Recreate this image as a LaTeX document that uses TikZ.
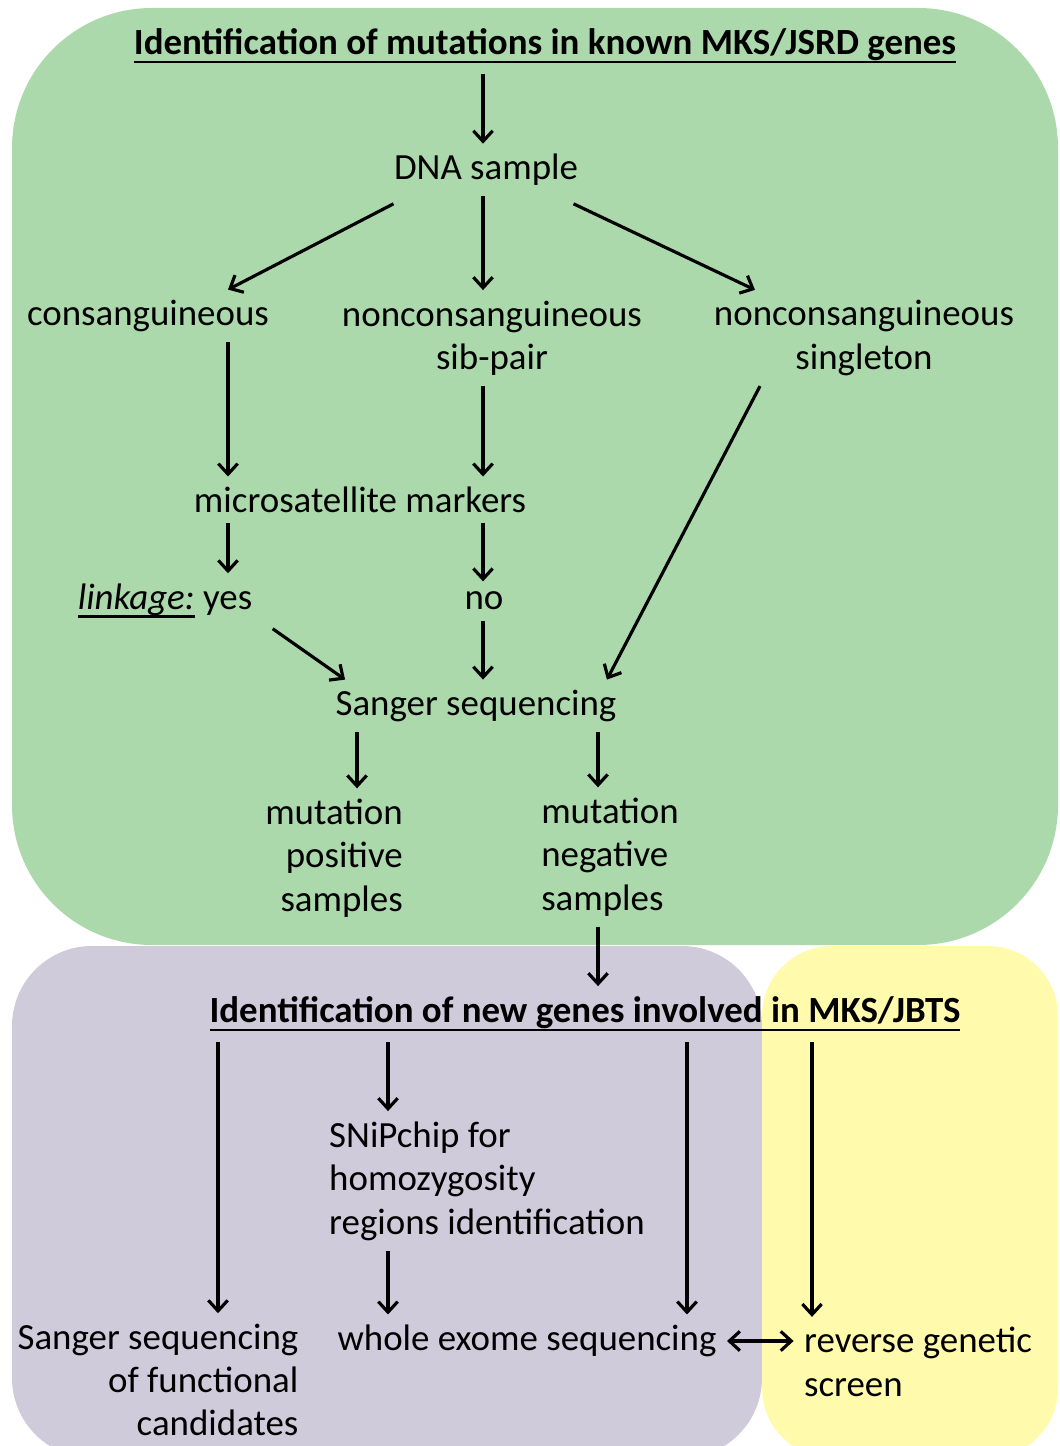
\documentclass[tikz,border=0pt]{standalone}
\usepackage{fontspec}
\setmainfont{Carlito}
\usetikzlibrary{arrows.meta}
\definecolor{boxgreen}{RGB}{172,217,172}
\definecolor{boxpurple}{RGB}{208,203,219}
\definecolor{boxyellow}{RGB}{255,250,172}
\newcommand\thickul[1]{\setbox0\hbox{#1}\leavevmode\rlap{\rule[-5pt]{\wd0}{1.6pt}}\box0\relax}
\begin{document}
\begin{tikzpicture}[x=0.02cm,y=-0.02cm]
\tikzstyle{txt}=[inner sep=0pt,outer sep=6pt,font=\fontsize{21pt}{24.7pt}\selectfont]
\tikzstyle{arr}=[line width=1.8pt,-{Straight Barb[length=6pt,width=11pt,line width=1.8pt]}]
\useasboundingbox (0,0) rectangle (1060,1446);

% Background panels
\fill[boxgreen,rounded corners=2.8cm] (12,8) rectangle (1058,945);
\fill[boxpurple,rounded corners=1.6cm] (12,946) rectangle (762,1458);
\fill[boxyellow,rounded corners=1.4cm] (762,946) rectangle (1058,1458);

% Arrow columns
\coordinate (xa) at (228,0);
\coordinate (xb) at (483,0);
\coordinate (xc) at (598,0);
\coordinate (xd) at (357,0);
\coordinate (xi) at (755,0);
\coordinate (xj) at (760,0);

% Part 1: known genes
\node[txt] (t1) at (545,46) {\bfseries\thickul{Identification of mutations in known MKS/JSRD genes}};
\node[txt] (dna) at (486,170) {DNA sample};
\node[txt] (cons) at (148,316) {consanguineous};
\node[txt,align=center] (sib) at (492,338) {nonconsanguineous\\sib-pair};
\node[txt,align=center] (single) at (864,338) {nonconsanguineous\\singleton};
\node[txt] (micro) at (360,500) {microsatellite markers};
\node[txt] (link) at (165,601) {\thickul{\itshape linkage:} yes};
\node[txt] (no) at (484,601) {no};
\node[txt] (sang) at (476,706) {Sanger sequencing};
\node[txt,align=right] (mpos) at (334,858) {mutation\\positive\\samples};
\node[txt,align=left] (mneg) at (610,857) {mutation\\negative\\samples};

\draw[arr] (t1.south -| xb) -- (dna.north -| xb);
\draw[arr] ([xshift=0.2cm,yshift=-0.15cm]dna.south west) -- (cons.north -| xa);
\draw[arr] (dna.south -| xb) -- (sib.north -| xb);
\draw[arr] ([xshift=-0.3cm,yshift=-0.15cm]dna.south east) -- (single.north -| xi);
\draw[arr] (cons.south -| xa) -- (micro.north -| xa);
\draw[arr] (sib.south -| xb) -- (micro.north -| xb);
\draw[arr] (single.south -| xj) -- ([xshift=-0.4cm]sang.north east);
\draw[arr] (micro.south -| xa) -- (link.north -| xa);
\draw[arr] (micro.south -| xb) -- (no.north -| xb);
\draw[arr] ([xshift=0.2cm]link.south east) -- ([xshift=0.4cm]sang.north west);
\draw[arr] (no.south -| xb) -- (sang.north -| xb);
\draw[arr] (sang.south -| xd) -- (mpos.north -| xd);
\draw[arr] (sang.south -| xc) -- (mneg.north -| xc);

% Part 2: new genes
\node[txt] (t2) at (585,1014) {\bfseries\thickul{Identification of new genes involved in MKS/JBTS}};
\node[txt,align=left] (snip) at (487,1181) {SNiPchip for\\homozygosity\\regions identification};
\node[txt,align=right] (sfc) at (158,1380) {Sanger sequencing\\of functional\\candidates};
\node[txt] (wes) at (527,1341) {whole exome sequencing};
\node[txt,align=left] (rgs) at (918,1362) {reverse genetic\\screen};

\draw[arr] (mneg.south -| xc) -- (t2.north -| xc);
\foreach \x/\dst in {218/sfc,388/snip,687/wes,812/rgs} {
  \coordinate (col) at (\x,0);
  \draw[arr] (t2.south -| col) -- (\dst.north -| col);
}
\coordinate (xf) at (388,0);
\draw[arr] (snip.south -| xf) -- (wes.north -| xf);
\draw[line width=1.8pt,{Straight Barb[length=6pt,width=11pt,line width=1.8pt]}-{Straight Barb[length=6pt,width=11pt,line width=1.8pt]}] (wes.east) -- (wes.east -| rgs.west);
\end{tikzpicture}
\end{document}
